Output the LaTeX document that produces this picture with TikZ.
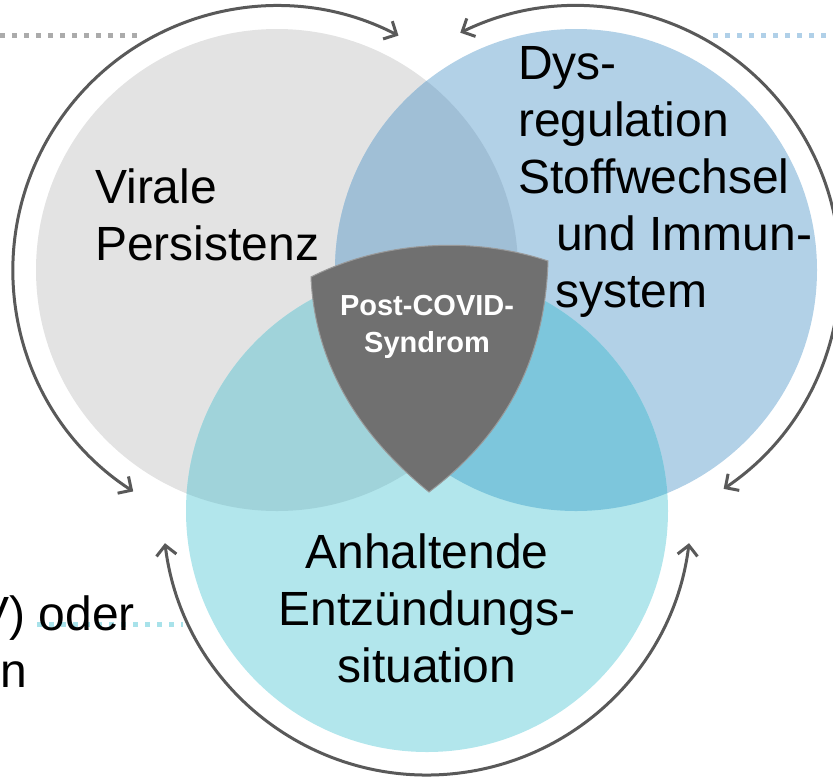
\documentclass[tikz,border=0pt]{standalone}
\usepackage{fontspec}
\setmainfont{Liberation Sans}
\usetikzlibrary{arrows.meta}
\definecolor{viralgray}{HTML}{E3E3E3}
\definecolor{dysblue}{HTML}{B2D1E7}
\definecolor{inflteal}{HTML}{B2E6EC}
\definecolor{gbmix}{HTML}{A0BFD6}
\definecolor{gtmix}{HTML}{A0D3DA}
\definecolor{btmix}{HTML}{7DC6DC}
\definecolor{shieldgray}{HTML}{707070}
\definecolor{arcgray}{HTML}{595959}
\definecolor{dotgray}{HTML}{ABABAB}
\definecolor{dotblue}{HTML}{B0D0E8}
\definecolor{dotteal}{HTML}{A8E2EA}
\tikzset{
  bigtext/.style={font=\fontsize{48}{57}\selectfont, inner sep=0pt},
  cyc/.style={arcgray, line width=3pt,
    {Straight Barb[length=10pt,width=20pt]}-{Straight Barb[length=10pt,width=20pt]}},
  leader/.style={line width=5pt, dash pattern=on 5pt off 7pt},
}
\begin{document}
\begin{tikzpicture}[x=1pt,y=1pt]
\useasboundingbox (0,0) rectangle (833,-777);
% leader lines
\coordinate (lgA) at (0,-35);
\coordinate (lgB) at (137,-35);
\coordinate (lbA) at (713,-35);
\coordinate (lbB) at (833,-35);
\coordinate (ltA) at (37,-624);
\coordinate (ltB) at (183,-624);
\draw[leader, dotgray] (lgA) -- (lgB);
\draw[leader, dotblue] (lbA) -- (lbB);
\draw[leader, dotteal] (ltA) -- (ltB);
% the three circles
\coordinate (viral) at (277,-270);
\coordinate (dys) at (576,-270);
\coordinate (infl) at (427,-511);
\fill[viralgray] (viral) circle[radius=241];
\fill[dysblue] (dys) circle[radius=241];
\fill[inflteal] (infl) circle[radius=241];
\begin{scope}
  \clip (viral) circle[radius=241];
  \fill[gbmix] (dys) circle[radius=241];
  \fill[gtmix] (infl) circle[radius=241];
\end{scope}
\begin{scope}
  \clip (dys) circle[radius=241];
  \fill[btmix] (infl) circle[radius=241];
\end{scope}
% arrows round the circles
\draw[cyc] ([shift={(237:264)}]viral) arc[start angle=237, end angle=62.6, radius=264];
\draw[cyc] ([shift={(116:264)}]dys) arc[start angle=116, end angle=-56, radius=264];
\draw[cyc] ([shift={(187:264)}]infl) arc[start angle=187, end angle=353, radius=264];
% shield
\filldraw[fill=shieldgray, draw=gray!80, line width=1pt]
  (311,-277) .. controls (380,-242) and (470,-235) .. (548,-261)
  .. controls (545,-360) and (505,-435) .. (429,-492)
  .. controls (365,-440) and (315,-370) .. cycle;
\node[font=\bfseries\fontsize{29}{37}\selectfont, text=white, align=center,
  anchor=base, inner sep=0pt] (pcs) at (427,-352) {Post-COVID-\\Syndrom};
% labels
\node[bigtext, anchor=base west, align=left] (virtxt) at (95,-260) {Virale\\Persistenz};
\node[bigtext, anchor=base west, align=left] (dystxt) at (518,-307)
  {Dys-\\regulation\\Stoffwechsel\\\hspace*{38pt}und Immun-\\\hspace*{37pt}system};
\node[bigtext, anchor=base, align=center] (infltxt) at (427,-682)
  {Anhaltende\\Entzündungs-\\situation};
\node[bigtext, anchor=base east] (cutA) at (135,-630) {V) oder};
\node[bigtext, anchor=base east] (cutB) at (27,-687) {n};
\end{tikzpicture}
\end{document}
